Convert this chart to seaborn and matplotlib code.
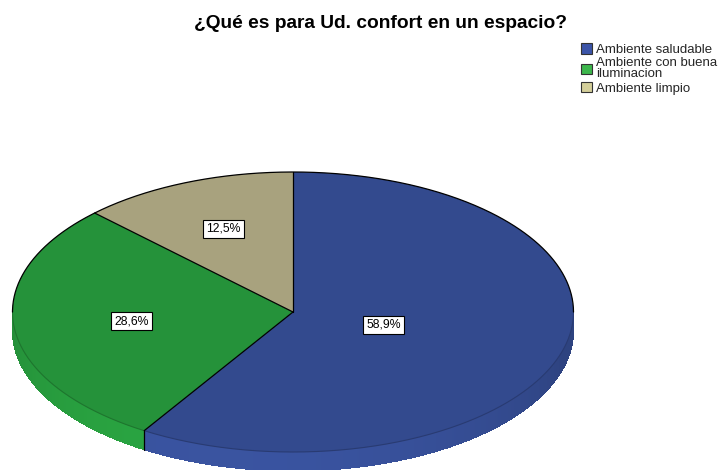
import numpy as np
import matplotlib
matplotlib.use("Agg")
import matplotlib.pyplot as plt
from matplotlib.patches import Polygon, Patch
from matplotlib.colors import to_rgb
import seaborn as sns

# Survey answers and their shares (percent)
categories = ["Ambiente saludable", "Ambiente con buena\niluminacion", "Ambiente limpio"]
shares = [58.9, 28.6, 12.5]
pct_labels = ["58,9%", "28,6%", "12,5%"]
label_radius = [0.335, 0.58, 0.645]

title = "¿Qué es para Ud. confort en un espacio?"

face_colors = sns.color_palette(["#334a8e", "#25923a", "#a8a27e"])
legend_colors = sns.color_palette(["#3b54a8", "#3cb64c", "#d4cf9a"])

sns.set_theme(style="white")
plt.rcParams["font.family"] = ["Liberation Sans", "DejaVu Sans"]

W, H = 720, 470
fig = plt.figure(figsize=(W / 100, H / 100), dpi=100)
ax = fig.add_axes([0, 0, 1, 1])

# ellipse geometry of the tilted pie (pixels)
cx, cy, rx, ry = 293, 312, 280.5, 140
depth = 19 / ry

wedges, _ = ax.pie(shares, colors=face_colors, startangle=90, counterclock=False,
                   wedgeprops=dict(edgecolor="none", linewidth=0, zorder=3))

# slice boundaries (degrees, counter-clockwise convention)
total = sum(shares)
bounds = [90 - 360 * c / total for c in np.cumsum([0] + shares)]

def shade(rgb, f):
    return tuple(min(1, max(0, v * f)) for v in rgb)

# side wall of the disc, only on the visible front half
for i in range(len(shares)):
    a_hi, a_lo = bounds[i], bounds[i + 1]
    lo = a_lo % 360
    hi = lo + (a_hi - a_lo)
    seg_lo, seg_hi = max(lo, 180), min(hi, 360)
    if seg_hi <= seg_lo:
        continue
    ts = np.linspace(seg_lo, seg_hi, int((seg_hi - seg_lo) * 2) + 2)
    step = ts[1] - ts[0]
    base = to_rgb(face_colors[i])
    for t0, t1 in zip(ts[:-1], ts[1:]):
        tm = np.radians((t0 + t1) / 2)
        f = 0.9 + 0.23 * max(0.0, np.cos(tm - np.radians(255)))
        r0 = np.radians(t0)
        r1 = np.radians(min(t1 + step * 0.6, seg_hi))
        pts = [(np.cos(r0), np.sin(r0)), (np.cos(r1), np.sin(r1)),
               (np.cos(r1), np.sin(r1) - depth), (np.cos(r0), np.sin(r0) - depth)]
        ax.add_patch(Polygon(pts, closed=True, fc=shade(base, f), ec="none",
                             lw=0, antialiased=False, zorder=1))
    # subtle rim between top face and wall
    tt = np.radians(np.linspace(seg_lo, seg_hi, 200))
    ax.plot(np.cos(tt), np.sin(tt), color=shade(base, 0.8), lw=0.8, zorder=4)

# dark outline on the back half of the rim
tt = np.radians(np.linspace(0, 180, 400))
ax.plot(np.cos(tt), np.sin(tt), color="black", lw=0.9, zorder=4)

# radial slice borders, plus the wall edge where a border meets the front
for b in bounds[:-1]:
    r = np.radians(b)
    ax.plot([0, np.cos(r)], [0, np.sin(r)], color="black", lw=0.9, zorder=5)
    if np.sin(r) < 0:
        ax.plot([np.cos(r), np.cos(r)], [np.sin(r), np.sin(r) - depth],
                color="black", lw=0.9, zorder=5)

# percentage labels
for i, lab in enumerate(pct_labels):
    mid = np.radians((bounds[i] + bounds[i + 1]) / 2)
    d = label_radius[i]
    ax.text(d * np.cos(mid), d * np.sin(mid), lab, ha="center", va="center",
            fontsize=8.8, color="black", zorder=6,
            bbox=dict(boxstyle="square,pad=0.25", fc="white", ec="black", lw=0.8))

ax.set_aspect("auto")
ax.set_xlim(-cx / rx, (W - cx) / rx)
ax.set_ylim(-(H - cy) / ry, cy / ry)
ax.axis("off")

fig.text(381 / W, 1 - 23 / H, title, ha="center", va="center",
         fontsize=13.8, fontweight="bold", color="black")

handles = [Patch(facecolor=c, edgecolor="#333333", linewidth=0.8) for c in legend_colors]
leg = fig.legend(handles, categories, loc="upper left", bbox_to_anchor=(572 / W, 1 - 34 / H),
                 frameon=False, fontsize=9.5, handlelength=0.85, handleheight=0.85,
                 handletextpad=0.3, labelspacing=0.1, borderpad=0.2)
for t in leg.get_texts():
    t.set_linespacing(0.9)

fig.savefig("out.png", dpi=100)
